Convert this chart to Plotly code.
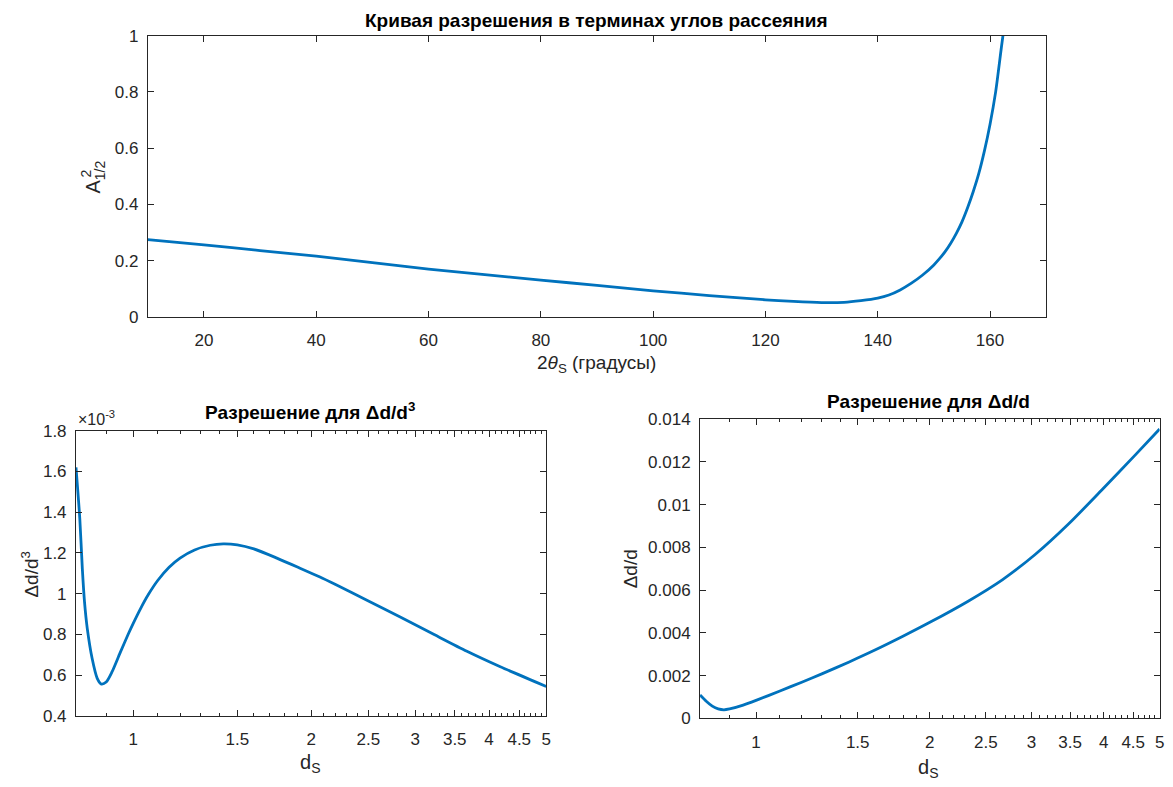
import plotly.graph_objects as go

# ---- data ----
two_theta = [10, 20, 30, 40, 50, 60, 70, 80, 90, 100, 110, 120, 125, 130, 134, 137, 140,
             142, 144, 146, 148, 150, 151, 152, 153, 154, 155, 156, 157, 158, 159, 160, 161,
             162, 162.3]
a_half_sq = [0.275, 0.256, 0.236, 0.216, 0.193, 0.170, 0.150, 0.131, 0.112, 0.093, 0.076,
             0.061, 0.055, 0.051, 0.052, 0.058, 0.067, 0.078, 0.096, 0.120, 0.149, 0.185,
             0.207, 0.232, 0.262, 0.297, 0.338, 0.388, 0.445, 0.510, 0.590, 0.685, 0.800,
             0.955, 1.000]

d_left = [0.80, 0.812, 0.820, 0.827, 0.836, 0.852, 0.869, 0.883, 0.90, 0.92, 0.95, 0.98,
          1.0, 1.03, 1.06, 1.1, 1.15, 1.2, 1.27, 1.35, 1.42, 1.5, 1.6, 1.75, 1.9, 2.07,
          2.2, 2.5, 2.83, 3.23, 3.67, 4.18, 5.0]
res_d3_e3 = [1.620, 1.368, 1.123, 0.960, 0.829, 0.682, 0.585, 0.557, 0.567, 0.615, 0.710,
             0.800, 0.855, 0.930, 0.995, 1.065, 1.130, 1.175, 1.215, 1.238, 1.245, 1.240,
             1.220, 1.175, 1.130, 1.082, 1.045, 0.965, 0.886, 0.800, 0.718, 0.642, 0.545]

d_right = [0.80, 0.82, 0.84, 0.86, 0.88, 0.90, 0.95, 1.0, 1.1, 1.2, 1.3, 1.45, 1.6, 1.8,
           2.0, 2.33, 2.67, 3.04, 3.48, 3.97, 4.53, 5.0]
res_d = [0.00109, 0.00080, 0.00057, 0.00044, 0.00040, 0.00044, 0.00062, 0.00084, 0.00128,
         0.00169, 0.00208, 0.00264, 0.00317, 0.00385, 0.00449, 0.00548, 0.00648, 0.00765,
         0.00910, 0.01068, 0.01230, 0.01353]

top_xticks = [20, 40, 60, 80, 100, 120, 140, 160]
top_yticks = [0, 0.2, 0.4, 0.6, 0.8, 1]
top_ylabels = ["0", "0.2", "0.4", "0.6", "0.8", "1"]
log_ticks = [1, 1.5, 2, 2.5, 3, 3.5, 4, 4.5, 5]
log_ticklabels = ["1", "1.5", "2", "2.5", "3", "3.5", "4", "4.5", "5"]
log_minor = [0.8, 0.9, 1.1, 1.2, 1.3, 1.4, 1.6, 1.7, 1.8, 1.9, 2.1, 2.2, 2.3, 2.4, 2.6, 2.7,
             2.8, 2.9, 3.1, 3.2, 3.3, 3.4, 3.6, 3.7, 3.8, 3.9, 4.1, 4.2, 4.3, 4.4, 4.6, 4.7,
             4.8, 4.9]
left_yticks = [0.4, 0.6, 0.8, 1, 1.2, 1.4, 1.6, 1.8]
left_ylabels = ["0.4", "0.6", "0.8", "1", "1.2", "1.4", "1.6", "1.8"]
right_yticks = [0, 0.002, 0.004, 0.006, 0.008, 0.01, 0.012, 0.014]
right_ylabels = ["0", "0.002", "0.004", "0.006", "0.008", "0.01", "0.012", "0.014"]

W, H = 1173, 787
LINE = "#0072BD"
AX = "#262626"
FONT = "Liberation Sans, Arial, sans-serif"


# map target screen pixels to paper fractions (compensates page offset)
def PX(x):
    return ((x - 8.1) / 0.9945) / W


def PY(y):
    return 1 - ((y - 17.1) / 0.978) / H


fig = go.Figure()
for xs, ys, xa, ya in [(two_theta, a_half_sq, "x", "y"),
                       (d_left, res_d3_e3, "x2", "y2"),
                       (d_right, res_d, "x3", "y3")]:
    fig.add_trace(go.Scatter(x=xs, y=ys, mode="lines", xaxis=xa, yaxis=ya,
                             line=dict(color=LINE, width=2.8, shape="spline", smoothing=0.7),
                             showlegend=False, hoverinfo="x+y"))

common = dict(showgrid=False, zeroline=False, showline=True, linecolor=AX, linewidth=1,
              mirror="ticks", ticks="inside", ticklen=6, tickcolor=AX, tickwidth=1,
              tickfont=dict(family=FONT, size=17, color=AX))

minor = dict(tickmode="array", tickvals=log_minor, ticks="inside", ticklen=3,
             tickcolor=AX, tickwidth=1)

fig.update_layout(
    width=W, height=H,
    margin=dict(l=0, r=0, t=0, b=0),
    paper_bgcolor="white", plot_bgcolor="white",
    font=dict(family=FONT, color=AX),
    xaxis=dict(domain=[PX(147.7), PX(1045)], anchor="y", range=[10, 170],
               tickmode="array", tickvals=top_xticks, ticklabelstandoff=8, **common),
    yaxis=dict(domain=[PY(317.7), PY(35.7)], anchor="x", range=[0, 1],
               tickmode="array", tickvals=top_yticks, ticktext=top_ylabels,
               ticklabelstandoff=5, **common),
    xaxis2=dict(domain=[PX(76), PX(545.7)], anchor="y2", type="log",
                range=[-0.09691, 0.69897], tickmode="array", tickvals=log_ticks,
                ticktext=log_ticklabels, minor=minor, ticklabelstandoff=8, **common),
    yaxis2=dict(domain=[PY(717.7), PY(431.7)], anchor="x2", range=[0.4, 1.8],
                tickmode="array", tickvals=left_yticks, ticktext=left_ylabels,
                ticklabelstandoff=5, **common),
    xaxis3=dict(domain=[PX(699.3), PX(1158.3)], anchor="y3", type="log",
                range=[-0.09691, 0.69897], tickmode="array", tickvals=log_ticks,
                ticktext=log_ticklabels, minor=minor, ticklabelstandoff=8, **common),
    yaxis3=dict(domain=[PY(720), PY(420)], anchor="x3", range=[0, 0.014],
                tickmode="array", tickvals=right_yticks, ticktext=right_ylabels,
                ticklabelstandoff=5, **common),
)

ann = []


def add_text(text, x, y, size=19, bold=False, angle=0, xanchor="center", yanchor="middle"):
    ann.append(dict(text=f"<b>{text}</b>" if bold else text, x=PX(x), y=PY(y), xref="paper",
                    yref="paper", showarrow=False, textangle=angle, xanchor=xanchor,
                    yanchor=yanchor,
                    font=dict(family=FONT, size=size, color="#000000" if bold else AX)))


add_text("Кривая разрешения в терминах углов рассеяния", 596, 21, size=19, bold=True)
add_text("2<i>θ</i><sub>S</sub> (градусы)", 596, 365, size=19)
add_text("A<sub>1/2</sub>", 95, 178, size=20, angle=-90)
add_text("2", 86, 174, size=14, angle=-90)

add_text("Разрешение для Δd/d<sup>3</sup>", 310, 412, size=19, bold=True)
add_text("×10<sup>-3</sup>", 76, 419, size=16, xanchor="left")
add_text("d<sub>S</sub>", 310, 765, size=20)
add_text("Δd/d<sup>3</sup>", 30, 575, size=19, angle=-90)

add_text("Разрешение для Δd/d", 927, 402, size=19, bold=True)
add_text("d<sub>S</sub>", 927, 770, size=20)
add_text("Δd/d", 630, 570, size=19, angle=-90)

fig.update_layout(annotations=ann)
fig.write_html("out.html")
